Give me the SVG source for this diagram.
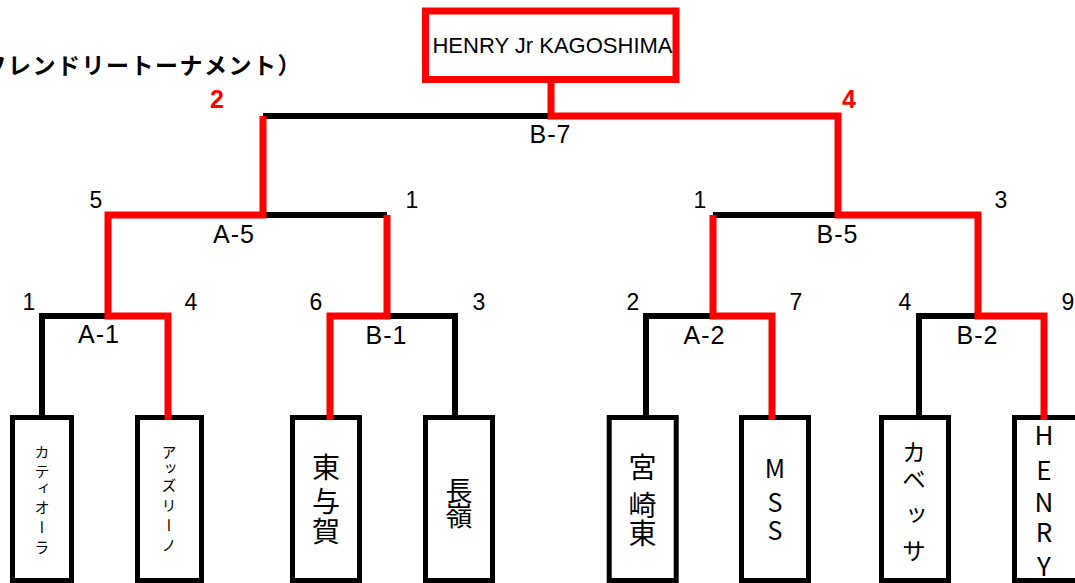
<svg xmlns="http://www.w3.org/2000/svg" width="1075" height="583" viewBox="0 0 1075 583">
<style>
.box{fill:#fff;stroke:#000;stroke-width:5}
.top{fill:#fff;stroke:#f00;stroke-width:7}
.bk{fill:none;stroke:#000;stroke-width:6;stroke-linecap:butt}
.rd{fill:none;stroke:#f00;stroke-width:7;stroke-linecap:butt}
.lbl{font-family:"Liberation Sans",Arial,sans-serif;font-size:25px;fill:#000;text-anchor:middle;letter-spacing:1px}
.num{font-family:"Liberation Sans",Arial,sans-serif;font-size:23px;fill:#000;text-anchor:middle}
.win{font-family:"Liberation Sans",Arial,sans-serif;font-size:25px;font-weight:bold;fill:#f00;text-anchor:middle}
.nm{font-family:"Noto Sans CJK JP","Liberation Sans",sans-serif;fill:#000;writing-mode:vertical-rl;text-orientation:upright}
.ttl{font-family:"Noto Sans CJK JP",sans-serif;font-weight:bold;font-size:23px;fill:#000;letter-spacing:1.5px}
</style>
<text class="ttl" x="-16.5" y="74">フレンドリートーナメント）</text>
<g id="n-top"><rect class="top" x="425.5" y="11" width="250.5" height="68.5"/><text x="552.5" y="53" style="font-family:'Liberation Sans',Arial,sans-serif;font-size:22px;fill:#000;text-anchor:middle">HENRY Jr KAGOSHIMA</text></g>
<g id="n1"><rect class="box" x="12.5" y="417.5" width="59" height="163"/><text class="nm" style="font-size:15px"><tspan x="42" y="444.5">カ</tspan><tspan x="42" y="463.5">テ</tspan><tspan x="42" y="480.5">ィ</tspan><tspan x="42" y="499.5">オ</tspan><tspan x="42" y="519.5">ー</tspan><tspan x="42" y="539.5">ラ</tspan></text></g>
<g id="n2"><rect class="box" x="137.5" y="417.5" width="64" height="163"/><text class="nm" style="font-size:15px"><tspan x="169" y="444.5">ア</tspan><tspan x="169" y="460.5">ッ</tspan><tspan x="169" y="477.5">ズ</tspan><tspan x="169" y="497.5">リ</tspan><tspan x="169" y="517.5">ー</tspan><tspan x="169" y="537.5">ノ</tspan></text></g>
<g id="n3"><rect class="box" x="292.5" y="417.5" width="67" height="163"/><text class="nm" style="font-size:28px"><tspan x="326" y="453">東</tspan><tspan x="326" y="487">与</tspan><tspan x="326" y="517">賀</tspan></text></g>
<g id="n4"><rect class="box" x="425.5" y="417.5" width="67" height="163"/><text class="nm" style="font-size:27px"><tspan x="459" y="477.5">長</tspan><tspan x="459" y="502.5">嶺</tspan></text></g>
<g id="n5"><rect class="box" x="609.2" y="417.5" width="67" height="163"/><text class="nm" style="font-size:28px"><tspan x="642.5" y="453">宮</tspan><tspan x="642.5" y="491">崎</tspan><tspan x="642.5" y="519">東</tspan></text></g>
<g id="n6"><rect class="box" x="741.5" y="417.5" width="67" height="163"/><text class="nm" style="font-size:25px"><tspan x="775" y="455.5">M</tspan><tspan x="775" y="489.5">S</tspan><tspan x="775" y="517.5">S</tspan></text></g>
<g id="n7"><rect class="box" x="881.5" y="417.5" width="67" height="163"/><text class="nm" style="font-size:24px"><tspan x="914" y="440">カ</tspan><tspan x="914" y="467">ベ</tspan><tspan x="914" y="503">ッ</tspan><tspan x="914" y="539">サ</tspan></text></g>
<g id="n8"><rect class="box" x="1014.5" y="417.5" width="100" height="163"/><text class="nm" style="font-size:26px"><tspan x="1044" y="422">H</tspan><tspan x="1044" y="457">E</tspan><tspan x="1044" y="489">N</tspan><tspan x="1044" y="519">R</tspan><tspan x="1044" y="553">Y</tspan></text></g>
<g id="connectors">
<path class="bk" d="M263 116H551"/>
<path class="bk" d="M263 215H387"/>
<path class="bk" d="M713 215H838"/>
<path class="bk" d="M42 418V316H108"/>
<path class="bk" d="M387 316H455V418"/>
<path class="bk" d="M646 418V316H713"/>
<path class="bk" d="M919 418V316H978"/>
<path class="rd" d="M551 79V116H838V215H978V316H1044V420"/>
<path class="rd" d="M263 116V215H108V316H168V420"/>
<path class="rd" d="M387 215V316H330V420"/>
<path class="rd" d="M713 215V316H772V420"/>
</g>
<g id="labels">
<text class="lbl" x="550.5" y="143">B-7</text>
<text class="lbl" x="234" y="243">A-5</text>
<text class="lbl" x="837.5" y="243">B-5</text>
<text class="lbl" x="99" y="343">A-1</text>
<text class="lbl" x="386.5" y="344">B-1</text>
<text class="lbl" x="704.5" y="344">A-2</text>
<text class="lbl" x="977.5" y="344">B-2</text>
<text class="win" x="217" y="108">2</text>
<text class="win" x="849" y="108">4</text>
<text class="num" x="96" y="208">5</text>
<text class="num" x="412" y="208">1</text>
<text class="num" x="700" y="208">1</text>
<text class="num" x="1001" y="208">3</text>
<text class="num" x="29" y="310">1</text>
<text class="num" x="191" y="310">4</text>
<text class="num" x="316" y="310">6</text>
<text class="num" x="479" y="310">3</text>
<text class="num" x="633" y="310">2</text>
<text class="num" x="796" y="310">7</text>
<text class="num" x="905" y="310">4</text>
<text class="num" x="1068" y="310">9</text>
</g>
</svg>
